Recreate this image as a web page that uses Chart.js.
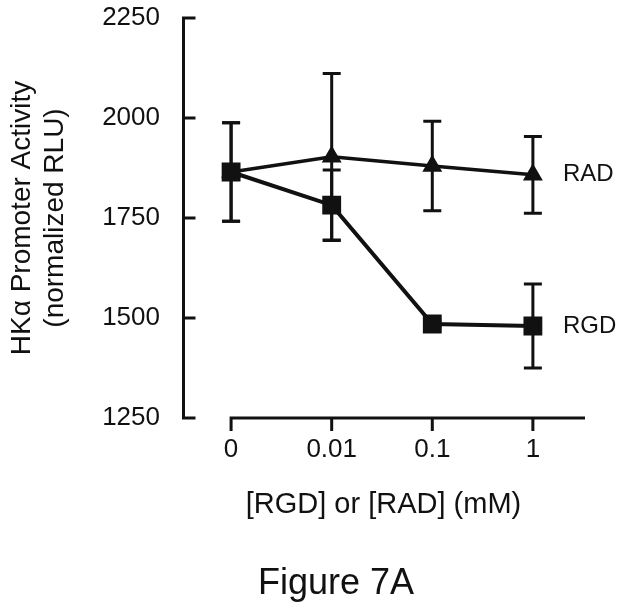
<!DOCTYPE html>
<html>
<head>
<meta charset="utf-8">
<script src="https://cdn.jsdelivr.net/npm/chart.js@4.4.0/dist/chart.umd.min.js"></script>
<style>
html, body { margin: 0; padding: 0; background: #fff; }
</style>
</head>
<body>
<canvas id="c" width="622" height="609"></canvas>
<script>
// x categories (concentration, mM) and tick labels
const categories = ['0', '0.01', '0.1', '1'];
const yTicks = [1250, 1500, 1750, 2000, 2250];

// series (mean and +/- error)
const radMean = [1865, 1903, 1880, 1858];
const radErr = [123, 208, 112, 96];
const rgdMean = [1865, 1782, 1485, 1480];
const rgdErr = [123, 88, 8, 105];

const FONT = "'Liberation Sans', Arial, sans-serif";
const INK = '#111';

// error bars, drawn with the scales
const errorBars = {
	id: 'errorBars',
	beforeDatasetsDraw(chart) {
		const {ctx, scales: {x, y}} = chart;
		ctx.save();
		ctx.strokeStyle = INK;
		ctx.lineWidth = 3;
		const sets = [[radMean, radErr], [rgdMean, rgdErr]];
		sets.forEach(([m, e]) => {
			m.forEach((v, i) => {
				const px = x.getPixelForValue(i);
				const top = y.getPixelForValue(v + e[i]);
				const bot = y.getPixelForValue(v - e[i]);
				ctx.beginPath();
				ctx.moveTo(px, top); ctx.lineTo(px, bot);
				ctx.moveTo(px - 9, top); ctx.lineTo(px + 9, top);
				ctx.moveTo(px - 9, bot); ctx.lineTo(px + 9, bot);
				ctx.stroke();
			});
		});
		ctx.restore();
	}
};

// detached axis lines with inward y ticks, series labels, figure caption
const axesAndLabels = {
	id: 'axesAndLabels',
	afterDraw(chart) {
		const {ctx, chartArea, scales: {x, y}} = chart;
		ctx.save();
		ctx.strokeStyle = INK;
		ctx.lineWidth = 3;
		const ax = chartArea.left + 1.5;
		const ay = chartArea.bottom;
		ctx.beginPath();
		ctx.moveTo(ax, y.getPixelForValue(2250) - 1.5);
		ctx.lineTo(ax, y.getPixelForValue(1250) + 1.5);
		yTicks.forEach(v => {
			const py = y.getPixelForValue(v);
			ctx.moveTo(ax, py); ctx.lineTo(ax + 12, py);
		});
		ctx.moveTo(x.getPixelForValue(0) - 1.5, ay);
		ctx.lineTo(chartArea.right, ay);
		categories.forEach((c, i) => {
			const px = x.getPixelForValue(i);
			ctx.moveTo(px, ay); ctx.lineTo(px, ay + 13);
		});
		ctx.stroke();

		ctx.fillStyle = INK;
		ctx.font = '24px ' + FONT;
		ctx.textAlign = 'left';
		ctx.textBaseline = 'middle';
		const last = categories.length - 1;
		ctx.fillText('RAD', x.getPixelForValue(last) + 30, y.getPixelForValue(radMean[last]));
		ctx.fillText('RGD', x.getPixelForValue(last) + 30, y.getPixelForValue(rgdMean[last]));

		ctx.font = '36px ' + FONT;
		ctx.textAlign = 'center';
		ctx.fillText('Figure 7A', 336, 584);
		ctx.restore();
	}
};

new Chart(document.getElementById('c'), {
	type: 'line',
	data: {
		datasets: [{
			label: 'RGD',
			data: rgdMean.map((v, i) => ({x: i, y: v})),
			borderColor: INK,
			backgroundColor: INK,
			borderWidth: 4,
			pointStyle: 'rect',
			pointRadius: 10.5,
			pointHoverRadius: 10.5,
			tension: 0
		}, {
			label: 'RAD',
			data: radMean.map((v, i) => ({x: i, y: v})),
			borderColor: INK,
			backgroundColor: INK,
			borderWidth: 3.5,
			pointStyle: 'triangle',
			pointRadius: 8,
			pointHoverRadius: 8,
			tension: 0
		}]
	},
	options: {
		responsive: false,
		animation: false,
		layout: {padding: {top: 0, right: 37, left: 0, bottom: 57}},
		plugins: {
			legend: {display: false},
			tooltip: {enabled: false}
		},
		scales: {
			x: {
				type: 'linear',
				min: -0.488,
				max: 3.518,
				afterBuildTicks: s => { s.ticks = categories.map((c, i) => ({value: i})); },
				afterFit: s => { s.height = 134; },
				grid: {display: false, drawTicks: false},
				border: {display: false},
				ticks: {
					callback: v => categories[v],
					color: INK,
					padding: 16,
					maxRotation: 0,
					font: {family: FONT, size: 26}
				},
				title: {
					display: true,
					text: '[RGD] or [RAD] (mM)',
					color: INK,
					font: {family: FONT, size: 29},
					padding: {top: 0, bottom: 30}
				}
			},
			y: {
				min: 1250,
				max: 2250,
				afterBuildTicks: s => { s.ticks = yTicks.map(v => ({value: v})); },
				afterFit: s => { s.width = 182; s.paddingTop = 18; s.paddingBottom = 0; },
				grid: {display: false, drawTicks: false},
				border: {display: false},
				ticks: {
					callback: v => String(v),
					color: INK,
					padding: 22,
					font: {family: FONT, size: 26}
				},
				title: {
					display: true,
					text: ['HK\u03b1 Promoter Activity', '(normalized RLU)'],
					color: INK,
					font: {family: FONT, size: 28, lineHeight: 1.2},
					padding: {top: 5, bottom: 0}
				}
			}
		}
	},
	plugins: [errorBars, axesAndLabels]
});
</script>
</body>
</html>
